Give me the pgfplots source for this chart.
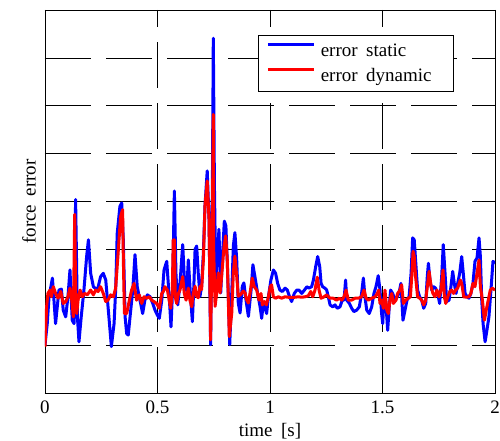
\documentclass[border=0pt]{standalone}
\usepackage{pgfplots}
\pgfplotsset{compat=1.18}
\usepackage{fontspec}
\setmainfont{Liberation Serif}
\pgfplotstableread{
x y
0.000 -1.00
0.010 -0.55
0.018 0.01
0.033 0.40
0.047 -0.55
0.062 0.15
0.073 0.17
0.081 -0.27
0.092 -0.41
0.102 0.01
0.111 0.57
0.121 -0.48
0.129 -0.55
0.136 2.04
0.144 -0.41
0.151 -0.93
0.161 -0.41
0.173 0.15
0.185 0.85
0.193 1.20
0.203 0.50
0.215 0.22
0.233 0.15
0.247 0.43
0.259 0.50
0.270 0.36
0.284 -0.41
0.295 -1.03
0.307 -0.55
0.314 0.15
0.321 1.34
0.333 1.90
0.341 1.97
0.348 1.20
0.356 -0.41
0.363 -0.76
0.370 -0.79
0.378 -0.41
0.390 0.15
0.400 0.89
0.410 0.22
0.422 -0.06
0.434 -0.34
0.444 -0.06
0.455 0.05
0.467 0.01
0.479 -0.13
0.489 -0.27
0.499 -0.37
0.508 -0.44
0.519 -0.06
0.529 0.57
0.541 0.75
0.553 -0.06
0.560 -0.62
0.567 0.15
0.575 2.22
0.582 0.50
0.590 -0.16
0.600 0.29
0.612 1.10
0.622 0.15
0.630 0.15
0.637 0.78
0.647 0.01
0.655 -0.51
0.662 0.30
0.667 1.00
0.674 1.07
0.681 0.51
0.689 0.02
0.696 0.23
0.704 0.93
0.711 1.91
0.721 2.64
0.729 1.63
0.736 -0.99
0.744 2.32
0.748 5.41
0.753 2.32
0.759 0.37
0.766 0.79
0.773 1.42
0.781 0.09
0.788 0.79
0.797 1.59
0.804 1.49
0.812 0.51
0.821 -0.99
0.830 0.09
0.837 1.07
0.844 1.35
0.852 0.79
0.859 -0.12
0.867 -0.33
0.877 0.23
0.884 0.30
0.893 -0.05
0.904 -0.40
0.916 0.15
0.924 0.68
0.933 0.43
0.945 0.08
0.956 -0.20
0.963 -0.44
0.970 -0.13
0.978 -0.23
0.985 -0.34
0.993 0.01
1.004 0.36
1.015 0.57
1.025 0.50
1.034 0.29
1.044 0.15
1.055 0.12
1.067 0.19
1.077 0.15
1.087 0.01
1.096 -0.09
1.108 0.08
1.119 0.15
1.129 0.15
1.141 0.08
1.153 0.15
1.164 0.22
1.173 0.19
1.185 0.22
1.193 0.36
1.203 0.64
1.212 0.85
1.221 0.64
1.227 0.29
1.234 0.22
1.244 0.19
1.252 0.15
1.259 0.01
1.267 -0.16
1.279 -0.20
1.289 -0.16
1.299 -0.23
1.311 -0.20
1.321 -0.06
1.329 -0.06
1.336 0.36
1.341 -0.06
1.353 -0.13
1.363 -0.23
1.373 -0.30
1.385 -0.27
1.397 -0.20
1.407 0.08
1.415 0.40
1.422 0.01
1.430 -0.27
1.441 -0.34
1.452 -0.20
1.462 0.08
1.471 0.22
1.481 0.45
1.489 0.15
1.496 -0.34
1.501 -0.55
1.507 0.01
1.514 -0.06
1.523 -0.69
1.530 -0.20
1.536 0.15
1.545 0.08
1.556 -0.06
1.566 0.01
1.573 0.08
1.582 0.29
1.591 -0.48
1.600 -0.27
1.609 -0.06
1.618 0.01
1.627 0.50
1.634 1.24
1.641 1.20
1.649 0.64
1.656 0.15
1.665 0.01
1.674 -0.06
1.683 -0.23
1.692 -0.13
1.699 0.43
1.704 0.71
1.711 0.36
1.719 0.15
1.727 0.22
1.736 0.19
1.745 0.08
1.754 -0.13
1.763 0.43
1.770 1.10
1.778 0.50
1.785 -0.09
1.796 -0.06
1.804 0.22
1.812 0.54
1.819 0.29
1.827 0.08
1.834 0.29
1.843 0.50
1.852 0.85
1.859 0.50
1.867 0.08
1.876 0.01
1.884 -0.02
1.893 0.08
1.902 0.29
1.911 0.75
1.920 0.82
1.929 1.24
1.935 0.85
1.941 -0.06
1.947 -0.55
1.956 -0.93
1.964 -0.69
1.973 -0.41
1.982 0.15
1.991 0.75
2.000 0.71
}\staticdata
\pgfplotstableread{
x y
0.000 -1.03
0.007 -0.20
0.013 0.08
0.022 0.15
0.028 0.01
0.037 0.22
0.047 0.08
0.058 -0.02
0.070 0.12
0.081 -0.13
0.092 -0.09
0.102 0.01
0.111 0.19
0.119 -0.06
0.126 -0.41
0.132 1.73
0.136 0.15
0.141 -0.34
0.147 -0.06
0.156 0.15
0.166 0.01
0.176 0.08
0.188 0.05
0.203 0.15
0.215 0.05
0.225 0.15
0.236 0.12
0.247 0.22
0.259 0.08
0.270 -0.09
0.280 -0.06
0.292 0.05
0.304 0.01
0.314 0.19
0.324 0.85
0.336 1.69
0.345 1.83
0.348 0.85
0.353 -0.34
0.363 -0.34
0.375 -0.06
0.385 0.15
0.396 0.29
0.407 -0.06
0.419 0.05
0.430 -0.13
0.440 0.01
0.452 -0.02
0.464 0.01
0.474 -0.06
0.484 -0.09
0.496 -0.13
0.508 -0.23
0.519 0.08
0.526 0.12
0.533 0.22
0.544 0.15
0.553 -0.09
0.559 -0.23
0.566 0.15
0.570 1.20
0.575 1.20
0.579 0.01
0.585 -0.13
0.593 0.08
0.600 0.15
0.612 0.43
0.619 0.08
0.627 -0.06
0.637 0.19
0.644 -0.06
0.652 -0.20
0.659 0.08
0.667 0.23
0.674 0.02
0.681 -0.01
0.689 0.23
0.696 0.16
0.704 0.79
0.711 1.91
0.721 2.43
0.729 1.63
0.736 -0.89
0.744 1.63
0.748 3.82
0.750 0.93
0.756 -0.19
0.763 0.09
0.770 0.51
0.778 0.09
0.785 0.44
0.796 1.07
0.803 1.28
0.810 0.79
0.819 -0.82
0.830 -0.33
0.837 0.51
0.844 0.86
0.852 0.44
0.859 0.02
0.870 0.06
0.881 0.13
0.889 0.09
0.896 -0.05
0.904 -0.12
0.911 0.08
0.921 0.40
0.930 0.22
0.941 0.15
0.951 -0.06
0.960 0.08
0.966 -0.16
0.975 -0.09
0.984 -0.16
0.993 0.01
1.001 0.22
1.007 0.26
1.015 0.01
1.025 -0.02
1.037 0.01
1.052 -0.02
1.067 0.01
1.081 0.00
1.096 0.00
1.111 0.00
1.126 0.01
1.141 0.00
1.156 0.01
1.170 0.03
1.181 0.12
1.190 0.01
1.200 0.15
1.210 0.42
1.218 0.15
1.227 -0.02
1.237 0.00
1.252 0.05
1.267 -0.02
1.281 -0.02
1.296 -0.06
1.308 -0.02
1.319 -0.06
1.329 0.01
1.338 0.15
1.348 -0.06
1.363 -0.06
1.378 -0.02
1.393 -0.02
1.407 0.01
1.418 0.15
1.427 -0.02
1.437 -0.06
1.452 -0.02
1.467 0.01
1.477 0.08
1.483 0.15
1.489 -0.13
1.496 -0.06
1.504 -0.23
1.511 0.15
1.519 -0.27
1.526 -0.34
1.533 -0.06
1.541 0.08
1.548 -0.13
1.560 -0.06
1.567 0.08
1.578 0.15
1.585 0.26
1.593 -0.13
1.603 -0.06
1.615 -0.02
1.624 0.01
1.630 0.43
1.636 0.96
1.641 0.85
1.647 0.43
1.656 0.01
1.665 -0.02
1.674 -0.06
1.683 -0.16
1.692 -0.06
1.701 0.29
1.707 0.54
1.716 0.22
1.724 0.08
1.733 0.01
1.742 0.15
1.751 0.01
1.760 0.15
1.769 0.57
1.775 0.01
1.781 -0.13
1.790 0.01
1.799 0.12
1.807 0.15
1.816 0.08
1.825 0.15
1.834 0.19
1.846 0.36
1.852 0.29
1.861 0.01
1.873 0.00
1.884 0.01
1.893 0.08
1.902 0.29
1.911 0.22
1.920 0.50
1.929 0.78
1.935 0.22
1.944 -0.06
1.953 -0.48
1.961 -0.27
1.970 -0.06
1.979 0.15
1.988 0.19
2.000 0.15
}\dynamicdata
\begin{document}
\begin{tikzpicture}
\path[use as bounding box] (-45pt,-48pt) rectangle (455pt,393pt);
\begin{axis}[
  at={(0,0)}, anchor=south west,
  scale only axis, width=450pt, height=383pt,
  xmin=0, xmax=2, ymin=-2, ymax=6,
  xtick={0,0.5,1,1.5,2}, xticklabels={0,0.5,1,1.5,2},
  ytick={-2,-1,0,1,2,3,4,5,6}, yticklabels={},
  tick align=inside, major tick length=5pt,
  xmajorgrids, ymajorgrids,
  major grid style={black, line width=0.6pt, dash pattern=on 46pt off 15pt},
  axis line style={black, line width=0.9pt},
  every tick/.style={black, line width=0.7pt},
  /pgf/number format/assume math mode=true,
  tick label style={font=\fontsize{19}{23}\selectfont},
  xticklabel style={yshift=-4pt},
  xlabel={time\hspace{0.45em}[s]}, ylabel={force\hspace{0.45em}error},
  label style={font=\fontsize{19}{23}\selectfont},
  xlabel style={at={(axis description cs:0.5,-0.099)}, anchor=center},
  ylabel style={at={(axis description cs:-0.0356,0.5)}, anchor=center},
  legend cell align=left,
  legend style={at={(0.474,0.9355)}, anchor=north west, draw=black, line width=0.9pt,
    fill=white, font=\fontsize{19}{23}\selectfont, inner xsep=0pt, inner ysep=6pt,
    row sep=6pt, nodes={inner sep=0pt, text height=15pt, text depth=4pt}},
  legend image code/.code={\path (0pt,0pt) (59pt,0pt); \draw[#1, line width=2.8pt] (7.7pt,6pt) -- (53.7pt,6pt);},
]
\addplot[black, line width=0.7pt, forget plot] coordinates {(0,0) (2,0)};
\addplot[blue, line width=3pt, line join=round] table[x=x,y=y] {\staticdata};
\addplot[red, line width=3pt, line join=round] table[x=x,y=y] {\dynamicdata};
\legend{error\hspace{0.45em}static, error\hspace{0.45em}dynamic\rule{22pt}{0pt}}
\end{axis}
\end{tikzpicture}
\end{document}
